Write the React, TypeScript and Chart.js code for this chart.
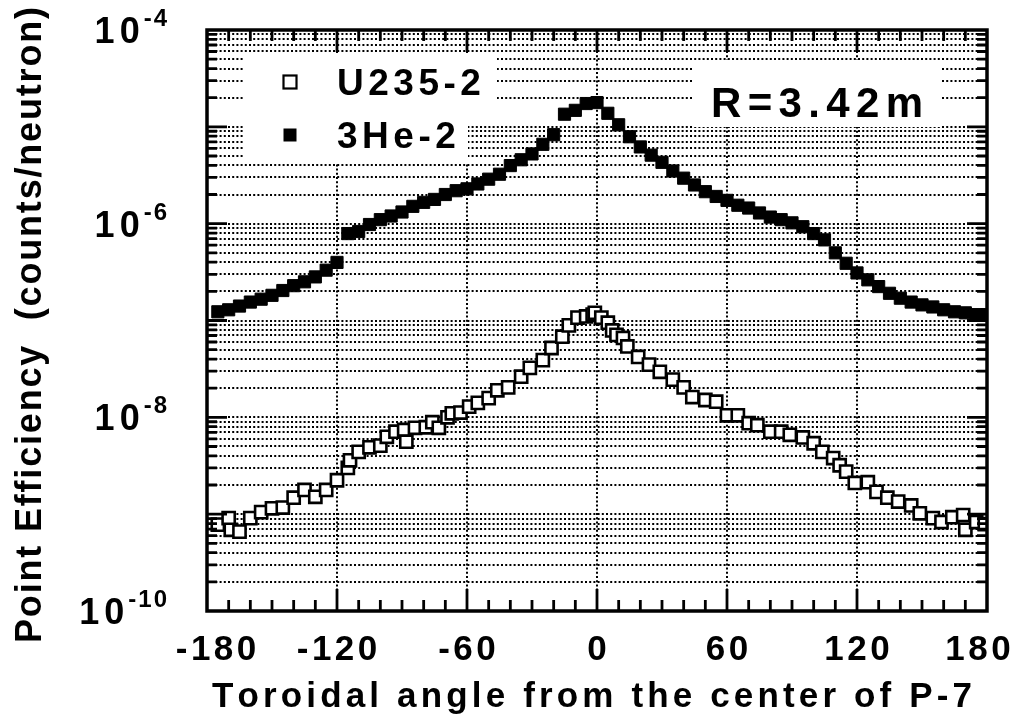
import React, { useEffect, useRef } from "react";
import { Chart, registerables } from "chart.js";

Chart.register(...registerables);

// ---------------- data ----------------
const seriesNames = ["U235-2", "3He-2"];

const u235Angle = [
  -175, -170, -169, -165, -160, -155, -150, -145, -140, -135,
  -130, -125, -120, -115, -114, -110, -105, -100, -97, -93,
  -89, -88, -84, -79, -76, -73, -69, -67, -63, -59,
  -55, -50, -46, -41, -35, -31, -25, -21, -16, -13,
  -9, -5, -2, -1, 2, 5, 7, 9, 12, 14,
  19, 24, 29, 35, 40, 44, 50, 55, 60, 65,
  70, 74, 80, 85, 89, 95, 100, 104, 109, 112,
  115, 119, 125, 129, 134, 139, 145, 149, 155, 159,
  164, 169, 170, 175, 179,
];
const u235Eff = [
  7.8e-10, 9.1e-10, 6.9e-10, 6.6e-10, 9.1e-10, 1.05e-9, 1.15e-9, 1.17e-9, 1.48e-9, 1.78e-9,
  1.51e-9, 1.78e-9, 2.24e-9, 3.0e-9, 3.6e-9, 4.4e-9, 4.9e-9, 5.1e-9, 6.3e-9, 7.1e-9,
  7.4e-9, 5.6e-9, 7.8e-9, 7.9e-9, 8.9e-9, 7.8e-9, 1.0e-8, 1.1e-8, 1.12e-8, 1.29e-8,
  1.41e-8, 1.58e-8, 1.9e-8, 2.04e-8, 2.63e-8, 3.24e-8, 3.9e-8, 5.2e-8, 6.8e-8, 8.9e-8,
  1.07e-7, 1.1e-7, 1.15e-7, 1.2e-7, 1.07e-7, 9.5e-8, 7.9e-8, 7.1e-8, 6.6e-8, 5.4e-8,
  4.2e-8, 3.5e-8, 2.95e-8, 2.45e-8, 2.04e-8, 1.62e-8, 1.51e-8, 1.45e-8, 1.05e-8, 1.05e-8,
  8.7e-9, 8.3e-9, 7.1e-9, 7.1e-9, 6.6e-9, 6.2e-9, 5.4e-9, 4.4e-9, 3.8e-9, 3.2e-9,
  2.75e-9, 2.1e-9, 2.14e-9, 1.7e-9, 1.48e-9, 1.35e-9, 1.23e-9, 1.02e-9, 9.1e-10, 8.3e-10,
  9.3e-10, 9.8e-10, 6.9e-10, 8.3e-10, 7.9e-10,
];

const he3Angle = [
  -175, -170, -165, -160, -155, -150, -145, -140, -135, -130, -125, -120,
  -115, -110, -105, -100, -95, -90, -85, -80, -75, -70, -65, -60,
  -55, -50, -45, -40, -35, -30, -25, -20, -15, -10, -5, 0,
  5, 10, 15, 20, 25, 30, 35, 40, 45, 50, 55, 60,
  65, 70, 75, 80, 85, 90, 95, 100, 105, 110, 115, 120,
  125, 130, 135, 140, 145, 150, 155, 160, 165, 170, 175, 180,
];
const he3Eff = [
  1.23e-7, 1.29e-7, 1.41e-7, 1.55e-7, 1.66e-7, 1.82e-7, 2.04e-7, 2.29e-7, 2.51e-7, 2.82e-7, 3.31e-7, 3.98e-7,
  7.9e-7, 8.3e-7, 9.8e-7, 1.1e-6, 1.2e-6, 1.32e-6, 1.51e-6, 1.66e-6, 1.78e-6, 2.0e-6, 2.19e-6, 2.29e-6,
  2.57e-6, 2.88e-6, 3.24e-6, 3.98e-6, 4.57e-6, 5.25e-6, 6.6e-6, 8.3e-6, 1.35e-5, 1.48e-5, 1.74e-5, 1.78e-5,
  1.38e-5, 1.05e-5, 7.9e-6, 6.2e-6, 5.1e-6, 4.3e-6, 3.5e-6, 2.95e-6, 2.51e-6, 2.14e-6, 1.91e-6, 1.74e-6,
  1.55e-6, 1.45e-6, 1.29e-6, 1.17e-6, 1.1e-6, 1.02e-6, 9.3e-7, 7.9e-7, 6.8e-7, 5.0e-7, 3.9e-7, 3.1e-7,
  2.63e-7, 2.24e-7, 1.91e-7, 1.7e-7, 1.55e-7, 1.45e-7, 1.38e-7, 1.29e-7, 1.23e-7, 1.2e-7, 1.15e-7, 1.15e-7,
];

// axes / text
const xMin = -180;
const xMax = 180;
const xLabelValues = [-180, -120, -60, 0, 60, 120, 180];
const xMinorStep = 10;
const xMajorStep = 60;
const yMin = 1e-10;
const yMax = 1e-4;
const yDecades = [-10, -9, -8, -7, -6, -5, -4];
const yLabelExps = [-4, -6, -8, -10];
const annotationText = "R=3.42m";
const xTitle = "Toroidal angle from the center of P-7";
const yTitle = "Point Efficiency  (counts/neutron)";

const xTickValues: number[] = [];
for (let v = xMin; v <= xMax; v += xMinorStep) xTickValues.push(v);
const yTickValues: number[] = [];
yDecades.forEach((e) => {
  const maxM = e === yDecades[yDecades.length - 1] ? 1 : 9;
  for (let m = 1; m <= maxM; m++) yTickValues.push(Number((m * Math.pow(10, e)).toPrecision(3)));
});

const FONT = '"Liberation Sans", Arial, Helvetica, sans-serif';

function spacedWidth(ctx: CanvasRenderingContext2D, text: string, sp: number) {
  let w = 0;
  for (const ch of text) w += ctx.measureText(ch).width;
  return w + sp * (text.length - 1);
}
function drawSpaced(
  ctx: CanvasRenderingContext2D,
  text: string,
  x: number,
  y: number,
  sp: number,
  align: "left" | "center" | "right"
) {
  const w = spacedWidth(ctx, text, sp);
  let cx = align === "center" ? x - w / 2 : align === "right" ? x - w : x;
  ctx.textAlign = "left";
  for (const ch of text) {
    ctx.fillText(ch, cx, y);
    cx += ctx.measureText(ch).width + sp;
  }
  return w;
}
function fitSpacing(ctx: CanvasRenderingContext2D, text: string, target: number) {
  return (target - spacedWidth(ctx, text, 0)) / (text.length - 1);
}

const decorPlugin = {
  id: "decor",
  beforeDatasetsDraw(chart: any) {
    const ctx: CanvasRenderingContext2D = chart.ctx;
    const { left, top } = chart.chartArea;
    ctx.save();
    ctx.fillStyle = "#fff";
    // legend box (two-part white area)
    ctx.fillRect(left + 36, top + 25, 254, 68);
    ctx.fillRect(left + 36, top + 92, 225, 41);
    // annotation box
    ctx.fillRect(left + 486, top + 30, 249, 67);
    ctx.restore();
  },
  afterDatasetsDraw(chart: any) {
    const ctx: CanvasRenderingContext2D = chart.ctx;
    const { left, right, top, bottom } = chart.chartArea;
    const xs = chart.scales.x;
    const ys = chart.scales.y;
    ctx.save();
    ctx.strokeStyle = "#000";
    ctx.fillStyle = "#000";

    // inward ticks
    ctx.lineWidth = 2.8;
    ctx.beginPath();
    xTickValues.forEach((v) => {
      if (v === xMin || v === xMax) return;
      const px = xs.getPixelForValue(v);
      const len = v % xMajorStep === 0 ? 22 : 11;
      ctx.moveTo(px, bottom);
      ctx.lineTo(px, bottom - len);
      ctx.moveTo(px, top);
      ctx.lineTo(px, top + len);
    });
    yTickValues.forEach((v) => {
      if (v <= yMin || v >= yMax) return;
      const py = ys.getPixelForValue(v);
      const m = Math.round(v / Math.pow(10, Math.floor(Math.log10(v) + 1e-9)));
      const len = m === 1 ? 20 : 10;
      ctx.moveTo(left, py);
      ctx.lineTo(left + len, py);
      ctx.moveTo(right, py);
      ctx.lineTo(right - len, py);
    });
    ctx.stroke();

    // frame
    ctx.lineWidth = 3.5;
    ctx.strokeRect(left, top, right - left, bottom - top);

    // legend
    const ds = chart.data.datasets;
    const legendRows = [top + 52, top + 105];
    const mk = 6.5;
    ds.forEach((d: any, i: number) => {
      const y = legendRows[i];
      const mx = left + 83;
      ctx.lineWidth = 2.2;
      if (i === 0) {
        ctx.fillStyle = "#fff";
        ctx.fillRect(mx - mk, y - mk, mk * 2, mk * 2);
        ctx.strokeRect(mx - mk, y - mk, mk * 2, mk * 2);
      } else {
        ctx.fillStyle = "#000";
        ctx.fillRect(mx - mk, y - mk, mk * 2, mk * 2);
      }
      ctx.fillStyle = "#000";
      ctx.font = `bold 37px ${FONT}`;
      ctx.textBaseline = "alphabetic";
      drawSpaced(ctx, d.label, left + 130, y + 13, 4.5, "left");
    });

    // annotation
    ctx.font = `bold 42px ${FONT}`;
    const sp = fitSpacing(ctx, annotationText, 212);
    drawSpaced(ctx, annotationText, left + 504, top + 87, sp, "left");

    // x tick labels
    ctx.font = `bold 35px ${FONT}`;
    xLabelValues.forEach((v) => {
      const px = xs.getPixelForValue(v);
      const shift = v === xMin ? 9 : v === xMax ? -9 : 0;
      drawSpaced(ctx, String(v), px + shift, bottom + 49, 3.5, "center");
    });

    // y tick labels (10^n)
    yLabelExps.forEach((e) => {
      const py = ys.getPixelForValue(Math.pow(10, e));
      const rightEdge = left - 40;
      ctx.font = `bold 24px ${FONT}`;
      const sup = String(e);
      const supW = drawSpaced(ctx, sup, rightEdge, py - 4, 2, "right");
      ctx.font = `bold 36px ${FONT}`;
      drawSpaced(ctx, "10", rightEdge - supW - 4, py + 13, 5, "right");
    });

    // x title
    ctx.font = `bold 35px ${FONT}`;
    const xsp = fitSpacing(ctx, xTitle, 760);
    drawSpaced(ctx, xTitle, 592, bottom + 96, xsp, "center");

    // y title
    ctx.save();
    ctx.translate(41, 325);
    ctx.rotate(-Math.PI / 2);
    ctx.font = `bold 36px ${FONT}`;
    const ysp = fitSpacing(ctx, yTitle, 636);
    drawSpaced(ctx, yTitle, 0, 0, ysp, "center");
    ctx.restore();

    ctx.restore();
  },
};

export default function App() {
  const canvasRef = useRef<HTMLCanvasElement | null>(null);

  useEffect(() => {
    const canvas = canvasRef.current;
    if (!canvas) return;
    const gridDash = [2, 2.2];
    const chart = new Chart(canvas, {
      type: "scatter",
      data: {
        datasets: [
          {
            label: seriesNames[0],
            data: u235Angle.map((a, i) => ({ x: a, y: u235Eff[i] })),
            pointStyle: "rect",
            pointRadius: 8.6,
            pointHoverRadius: 8.6,
            backgroundColor: "#fff",
            borderColor: "#000",
            borderWidth: 2.6,
          },
          {
            label: seriesNames[1],
            data: he3Angle.map((a, i) => ({ x: a, y: he3Eff[i] })),
            pointStyle: "rect",
            pointRadius: 8.6,
            pointHoverRadius: 8.6,
            backgroundColor: "#000",
            borderColor: "#000",
            borderWidth: 1,
          },
        ],
      },
      options: {
        responsive: false,
        animation: false,
        devicePixelRatio: 1,
        events: [],
        layout: { padding: { left: 0, top: 30, right: 41, bottom: 0 } },
        plugins: { legend: { display: false }, tooltip: { enabled: false } },
        scales: {
          x: {
            type: "linear",
            min: xMin,
            max: xMax,
            afterBuildTicks: (ax: any) => {
              ax.ticks = xTickValues.map((v) => ({ value: v }));
            },
            afterFit: (s: any) => {
              s.height = 116;
            },
            ticks: { display: false },
            grid: {
              drawTicks: false,
              lineWidth: 2,
              color: (c: any) => {
                const v = c.tick ? c.tick.value : 0;
                return v % xMajorStep === 0 && v !== xMin && v !== xMax ? "#000" : "rgba(0,0,0,0)";
              },
            },
            border: { display: false, dash: gridDash },
          },
          y: {
            type: "logarithmic",
            min: yMin,
            max: yMax,
            afterBuildTicks: (ax: any) => {
              ax.ticks = yTickValues.map((v) => ({ value: v }));
            },
            afterFit: (s: any) => {
              s.width = 207;
            },
            ticks: { display: false },
            grid: {
              drawTicks: false,
              lineWidth: 2,
              color: (c: any) => {
                const v = c.tick ? c.tick.value : 0;
                return v <= yMin || v >= yMax ? "rgba(0,0,0,0)" : "#000";
              },
            },
            border: { display: false, dash: gridDash },
          },
        },
      } as any,
      plugins: [decorPlugin],
    });
    return () => chart.destroy();
  }, []);

  return (
    <div style={{ position: "absolute", left: 0, top: 0, width: 1028, height: 727, background: "#fff" }}>
      <canvas ref={canvasRef} width={1028} height={727} style={{ display: "block" }} />
    </div>
  );
}
